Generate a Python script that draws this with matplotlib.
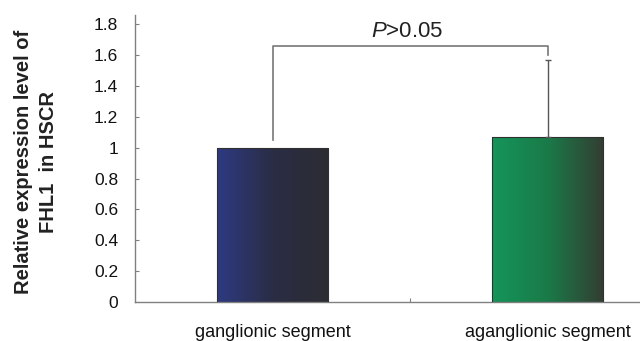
import numpy as np
import matplotlib.pyplot as plt
from matplotlib.colors import LinearSegmentedColormap

plt.rcParams['font.family'] = ['Liberation Sans', 'DejaVu Sans']
plt.rcParams['mathtext.fontset'] = 'custom'
plt.rcParams['mathtext.it'] = 'Liberation Sans:italic'

groups = ['ganglionic segment', 'aganglionic segment']
values = [1.0, 1.067]
err_up = [0.0, 0.50]
yticks = [0, 0.2, 0.4, 0.6, 0.8, 1, 1.2, 1.4, 1.6, 1.8]
ytick_labels = ['0', '0.2', '0.4', '0.6', '0.8', '1', '1.2', '1.4', '1.6', '1.8']
p_text = r'$\it{P}$>0.05'

fig = plt.figure(figsize=(6.4, 3.41), dpi=100)
# axes extends past the right edge like the cropped original
ax = fig.add_axes([135/640, 1 - 302/341, 550/640, 287/341])

x = np.arange(len(groups))
bars = ax.bar(x, values, width=0.405, edgecolor='#303030', linewidth=0.8,
              facecolor='none', zorder=3)

grads = [LinearSegmentedColormap.from_list('b', ['#2e3a82', '#2a2d45', '#2c2c32']),
         LinearSegmentedColormap.from_list('g', ['#15955a', '#1a7a48', '#333d33'])]
grad = np.linspace(0, 1, 256).reshape(1, -1)
for b, cm in zip(bars, grads):
    x0, y0 = b.get_x(), b.get_y()
    im = ax.imshow(grad, cmap=cm, aspect='auto', zorder=2,
                   extent=[x0, x0 + b.get_width(), y0, y0 + b.get_height()])
    im.set_clip_path(b)

ax.errorbar(x[1], values[1], yerr=[[0], [err_up[1]]], fmt='none',
            ecolor='#555555', elinewidth=1.0, capsize=2.5, capthick=1.0, zorder=4)

# significance bracket
ax.plot([x[0], x[0], x[1], x[1]], [1.05, 1.657, 1.657, 1.6],
        color='#777777', lw=1.2, zorder=4)
ax.text((x[0] + x[1]) / 2 - 0.01, 1.685, p_text, ha='center', va='bottom',
        fontsize=16, color='#222222')

ax.set_xlim(-0.5, 1.5)
ax.set_ylim(0, 1.86)
ax.set_yticks(yticks)
ax.set_yticklabels(ytick_labels, fontsize=12.5, color='#111111')
ax.set_xticks([0.5])
ax.set_xticklabels([''])
for xi, g in zip(x, groups):
    ax.text(xi, -0.14, g, ha='center', va='top', fontsize=13,
            color='#111111')
ax.tick_params(axis='y', direction='in', length=3, color='#808080', pad=12)
ax.tick_params(axis='x', direction='in', length=3, color='#808080')
for s in ['top', 'right']:
    ax.spines[s].set_visible(False)
for s in ['left', 'bottom']:
    ax.spines[s].set_color('#808080')
    ax.spines[s].set_linewidth(1.0)

fig.text(0.057, 1 - 162/341, 'Relative expression level of\nFHL1  in HSCR',
         rotation=90, ha='center', va='center', fontsize=14.5, fontweight='bold',
         color='#222222', linespacing=1.4)

fig.savefig('out.png', dpi=100)
